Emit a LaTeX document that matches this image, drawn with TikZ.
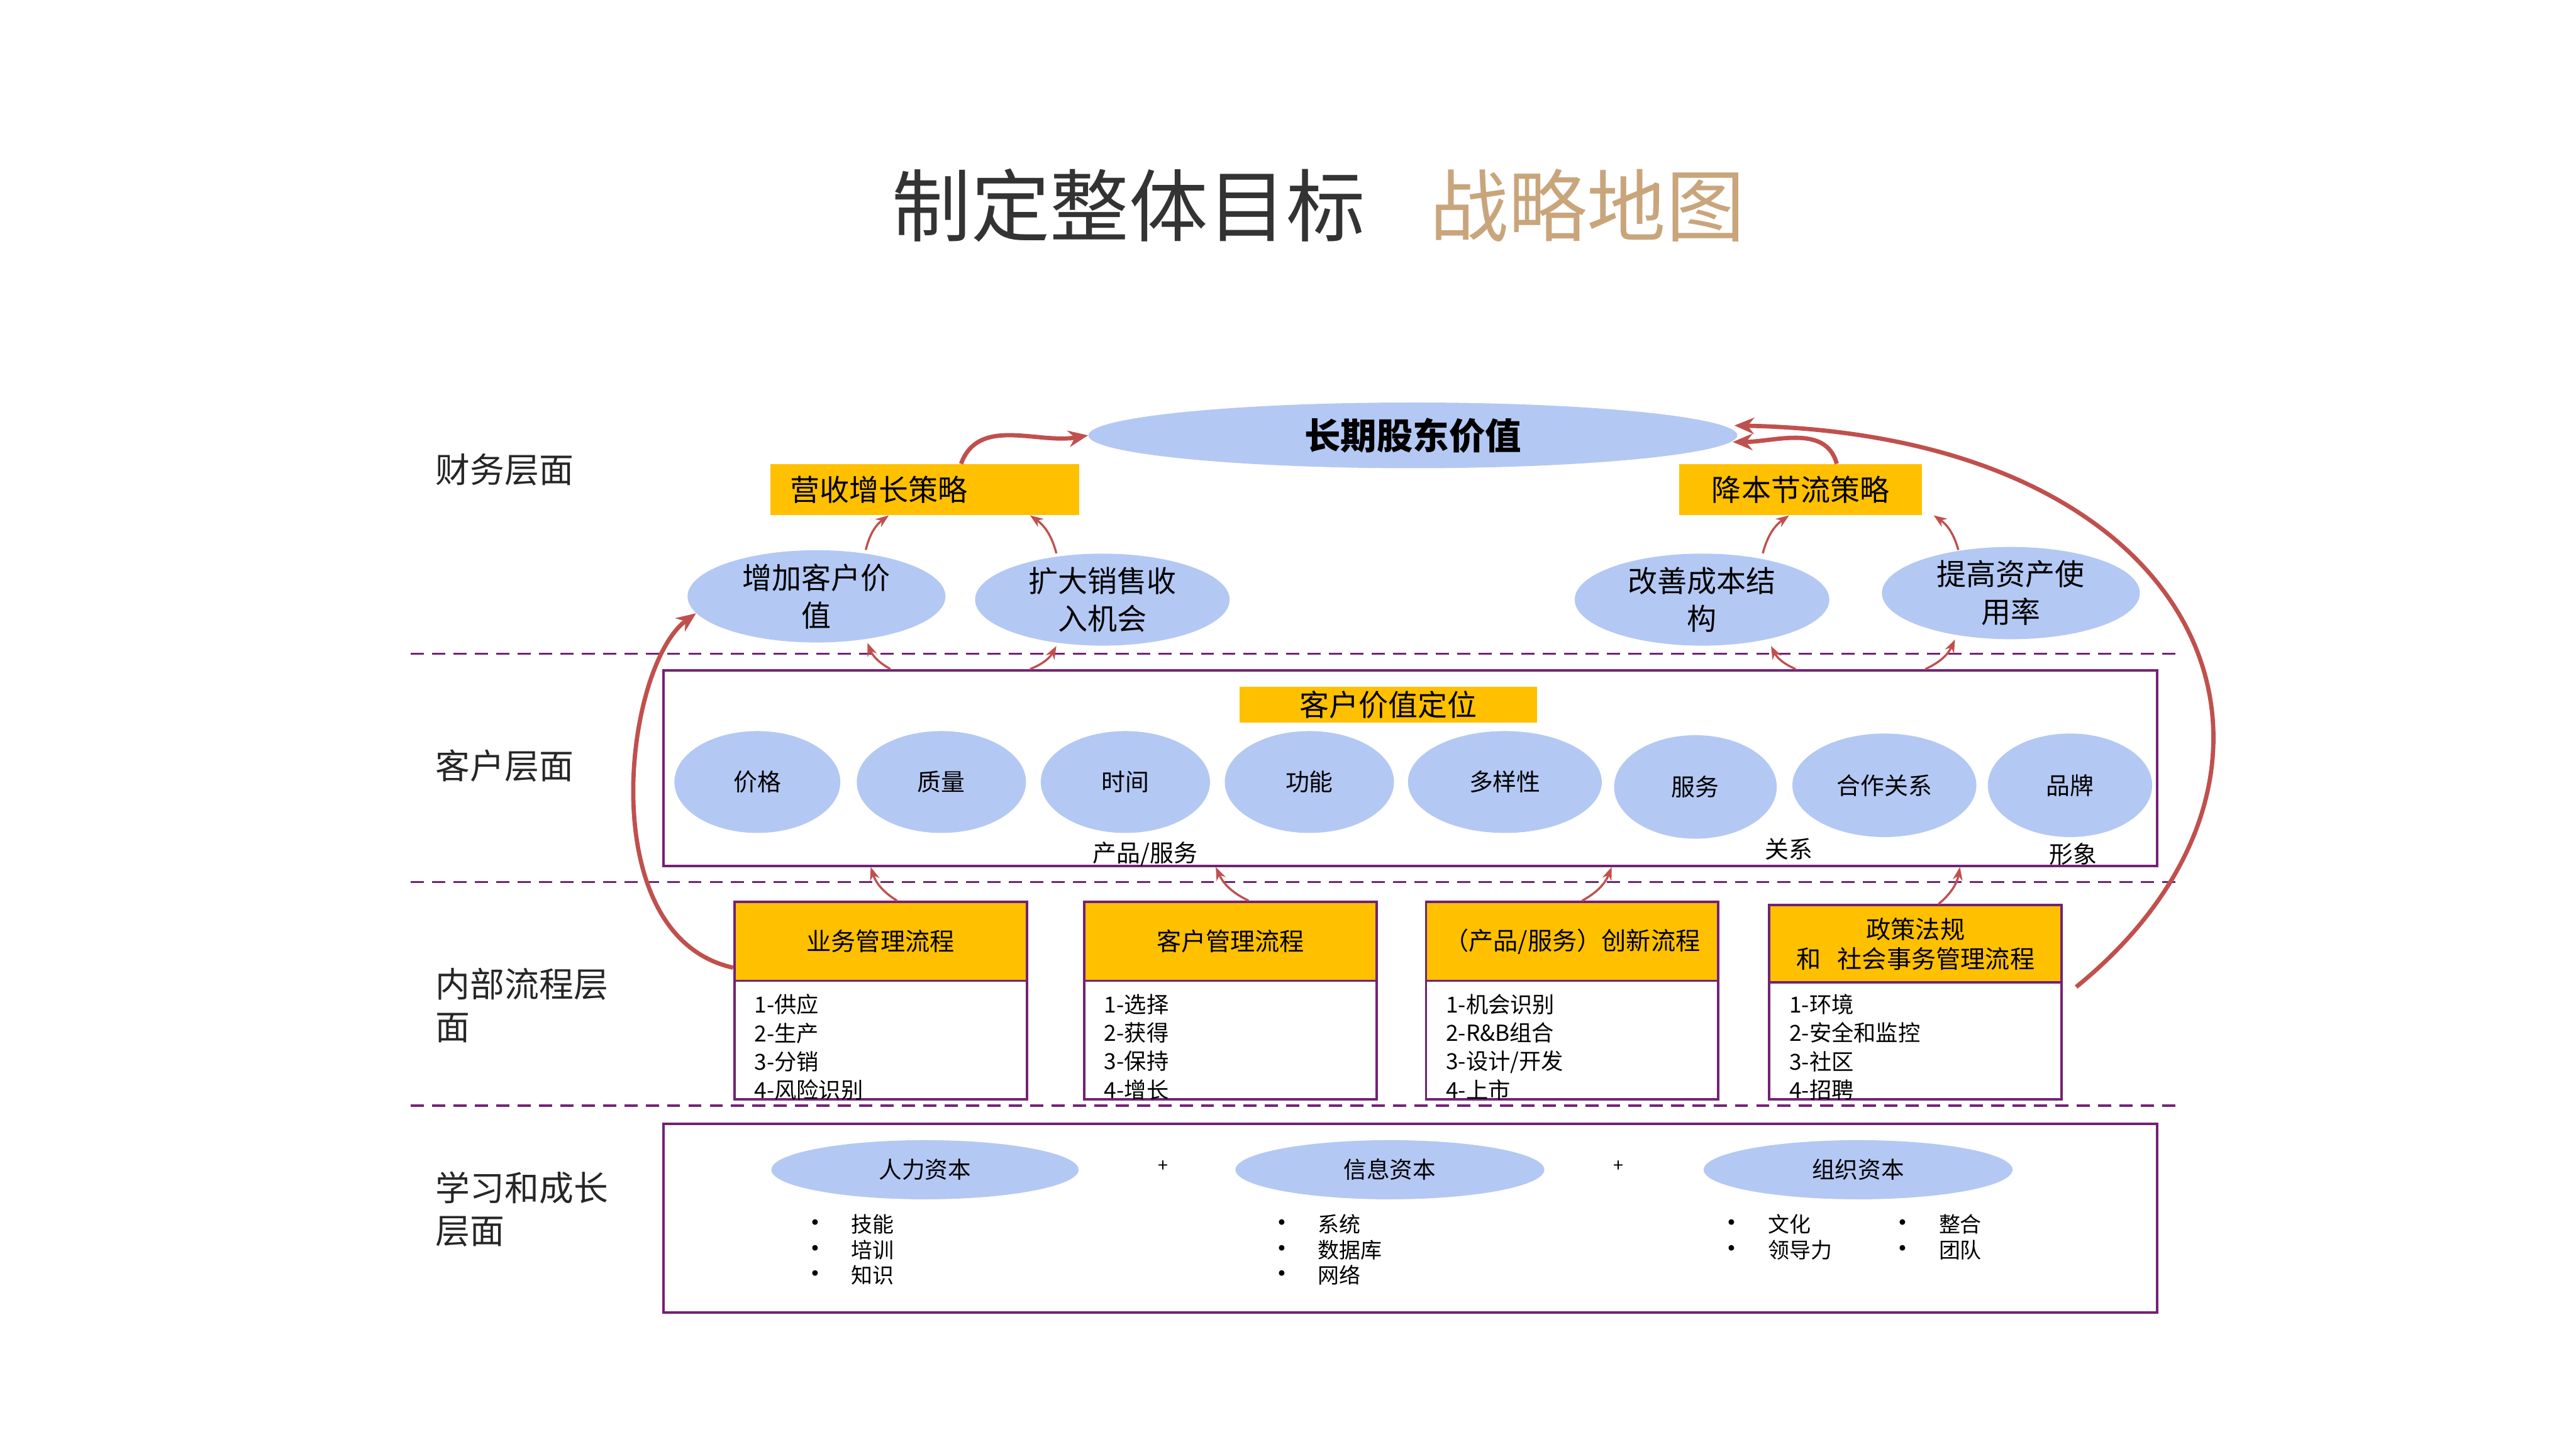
\documentclass[tikz,border=0pt]{standalone}
\usepackage{fontspec}
\setmainfont{Noto Sans CJK SC}
\usetikzlibrary{arrows.meta,shapes.geometric}

\definecolor{titlegray}{HTML}{333333}
\definecolor{titlegold}{HTML}{C9A57C}
\definecolor{ovalblue}{HTML}{B4C8F4}
\definecolor{boxgold}{HTML}{FFC000}
\definecolor{framepurple}{HTML}{732274}
\definecolor{arrowred}{HTML}{C0504D}

\newcommand\setsz[2]{\fontsize{#1}{#2}\selectfont}
\newcommand\lbul{\makebox[30pt][l]{\smash{\fontsize{16pt}{13pt}\selectfont•}}}

\tikzset{
  oval/.style={ellipse, fill=ovalblue, inner sep=0pt, align=center},
  gold/.style={fill=boxgold, inner sep=0pt},
  frame/.style={draw=framepurple, line width=1.5pt, inner sep=0pt},
  head/.style={frame, fill=boxgold, minimum width=178pt, minimum height=48pt, align=center, font=\setsz{15pt}{18pt}},
  body/.style={frame, fill=white, minimum width=178pt, minimum height=72pt},
  item/.style={anchor=north west, inner sep=0pt, align=left, font=\setsz{13.5pt}{17.3pt}},
  lvl/.style={anchor=west, inner sep=0pt, align=left, text=black!85, font=\setsz{21pt}{26pt}},
  sep/.style={draw=framepurple, line width=1.3pt, dash pattern=on 8pt off 5pt},
  uparrow/.style={draw=arrowred, line width=1.3pt, -{Stealth[length=8pt,width=6pt]}},
  bigarrow/.style={draw=arrowred, line width=2.6pt, -{Stealth[length=12pt,width=10pt]}},
}

\begin{document}
\begin{tikzpicture}[x=1pt,y=1pt]
\useasboundingbox (0,0) rectangle (1568,-882);

% title
\node[anchor=west, inner sep=0pt, text=titlegray, font=\setsz{48pt}{56pt}] (title) at (543,-125) {制定整体目标};
\node[anchor=west, inner sep=0pt, text=titlegold, font=\setsz{48pt}{56pt}] (subtitle) at (870,-125) {战略地图};

% perspectives
\node[lvl] (lvlfin) at (265,-286) {财务层面};
\node[lvl] (lvlcust) at (265,-466) {客户层面};
\node[lvl] (lvlproc) at (265,-612) {内部流程层\\面};
\node[lvl] (lvllearn) at (265,-736) {学习和成长\\层面};
\draw[sep] (250,-398) -- (1325,-398);
\draw[sep] (250,-537) -- (1325,-537);
\draw[sep] (250,-673) -- (1325,-673);

% financial
\node[oval, minimum width=395pt, minimum height=40pt, font=\setsz{22pt}{26pt}\bfseries] (lsv) at (860,-265) {长期股东价值};
\node[gold, minimum width=188pt, minimum height=31pt, text width=164pt, inner xsep=12pt, align=left, font=\setsz{18pt}{22pt}] (rev) at (563,-298) {营收增长策略};
\node[gold, minimum width=148pt, minimum height=31pt, font=\setsz{18pt}{22pt}] (cost) at (1096,-298) {降本节流策略};
\node[oval, minimum width=157pt, minimum height=56pt, font=\setsz{18pt}{23pt}] (fin1) at (497,-363) {增加客户价\\值};
\node[oval, minimum width=155pt, minimum height=56pt, font=\setsz{18pt}{23pt}] (fin2) at (671,-365) {扩大销售收\\入机会};
\node[oval, minimum width=155pt, minimum height=56pt, font=\setsz{18pt}{23pt}] (fin3) at (1036,-365) {改善成本结\\构};
\node[oval, minimum width=157pt, minimum height=54pt, font=\setsz{18pt}{23pt}] (fin4) at (1224,-361) {提高资产使\\用率};

% customer
\node[frame, minimum width=909pt, minimum height=119pt] (cust) at (858.5,-467.5) {};
\node[gold, minimum width=181pt, minimum height=22pt, font=\setsz{18pt}{22pt}] (cvp) at (845,-429) {客户价值定位};
\node[oval, minimum width=101pt, minimum height=62pt, font=\setsz{14.5pt}{17pt}] (price) at (461,-476) {价格};
\node[oval, minimum width=103pt, minimum height=62pt, font=\setsz{14.5pt}{17pt}] (quality) at (573,-476) {质量};
\node[oval, minimum width=103pt, minimum height=62pt, font=\setsz{14.5pt}{17pt}] (time) at (685,-476) {时间};
\node[oval, minimum width=103pt, minimum height=62pt, font=\setsz{14.5pt}{17pt}] (func) at (797,-476) {功能};
\node[oval, minimum width=118pt, minimum height=62pt, font=\setsz{14.5pt}{17pt}] (variety) at (916,-476) {多样性};
\node[oval, minimum width=99pt, minimum height=63pt, font=\setsz{14.5pt}{17pt}] (service) at (1032,-479) {服务};
\node[oval, minimum width=112pt, minimum height=63pt, font=\setsz{14.5pt}{17pt}] (partner) at (1147,-478) {合作关系};
\node[oval, minimum width=100pt, minimum height=63pt, font=\setsz{14.5pt}{17pt}] (brand) at (1260,-478) {品牌};
\node[inner sep=0pt, font=\setsz{14.5pt}{17pt}] (prodlbl) at (697,-520) {产品/服务};
\node[inner sep=0pt, font=\setsz{14.5pt}{17pt}] (rellbl) at (1089,-517) {关系};
\node[inner sep=0pt, font=\setsz{14.5pt}{17pt}] (imglbl) at (1262,-520) {形象};

% internal processes
\node[body] (bpb) at (536,-633) {};
\node[head] (bph) at (536,-573) {业务管理流程};
\node[item] (bpi) at (459,-605) {1-供应\\2-生产\\3-分销\\4-风险识别};
\node[body] (cpb) at (749,-633) {};
\node[head] (cph) at (749,-573) {客户管理流程};
\node[item] (cpi) at (672,-605) {1-选择\\2-获得\\3-保持\\4-增长};
\node[body] (inb) at (957,-633) {};
\node[head] (inh) at (957,-573) {（产品/服务）创新流程};
\node[item] (ini) at (880,-605) {1-机会识别\\2-R\&B组合\\3-设计/开发\\4-上市};
\node[body, minimum height=71pt] (pob) at (1166,-633.5) {};
\node[head, minimum height=47pt] (poh) at (1166,-574.5) {政策法规\\和\hspace{10pt}社会事务管理流程};
\node[item] (poi) at (1089,-605) {1-环境\\2-安全和监控\\3-社区\\4-招聘};

% learning and growth
\node[frame, minimum width=909pt, minimum height=115pt] (learn) at (858.5,-741.5) {};
\node[oval, minimum width=187pt, minimum height=36pt, font=\setsz{14pt}{17pt}] (human) at (563,-712) {人力资本};
\node[oval, minimum width=188pt, minimum height=36pt, font=\setsz{14pt}{17pt}] (info) at (846,-712) {信息资本};
\node[oval, minimum width=188pt, minimum height=36pt, font=\setsz{14pt}{17pt}] (org) at (1131,-712) {组织资本};
\node[inner sep=0pt, font=\setsz{11pt}{12pt}] (plus1) at (708,-710) {+};
\node[inner sep=0pt, font=\setsz{11pt}{12pt}] (plus2) at (985,-710) {+};
\node[item, font=\setsz{13pt}{15.5pt}] (humani) at (488,-739) {\lbul 技能\\\lbul 培训\\\lbul 知识};
\node[item, font=\setsz{13pt}{15.5pt}] (infoi) at (772,-739) {\lbul 系统\\\lbul 数据库\\\lbul 网络};
\node[item, font=\setsz{13pt}{15.5pt}] (orgi) at (1046,-739) {\lbul 文化\\\lbul 领导力};
\node[item, font=\setsz{13pt}{15.5pt}] (orgj) at (1150,-739) {\lbul 整合\\\lbul 团队};

% links
\draw[uparrow] ([xshift=30pt]fin1.north) to[bend left=20] ([xshift=-22pt]rev.south);
\draw[uparrow] ([xshift=-28pt]fin2.north) to[bend right=20] ([xshift=64pt]rev.south);
\draw[uparrow] ([xshift=37pt]fin3.north) to[bend left=20] ([xshift=-7pt]cost.south);
\draw[uparrow] ([xshift=-32pt,yshift=-2pt]fin4.north) to[bend right=20] ([xshift=81pt]cost.south);
\draw[uparrow] ([xshift=-316.5pt]cust.north) to[bend left=20] ([xshift=31pt]fin1.south);
\draw[uparrow] ([xshift=-231.5pt]cust.north) to[bend right=20] ([xshift=-28pt]fin2.south);
\draw[uparrow] ([xshift=234.5pt]cust.north) to[bend left=20] ([xshift=42pt]fin3.south);
\draw[uparrow] ([xshift=313.5pt]cust.north) to[bend right=20] ([xshift=-34pt]fin4.south);
\draw[uparrow] ([xshift=10pt]bph.north) to[bend left=20] ([xshift=-328.5pt]cust.south);
\draw[uparrow] ([xshift=11pt]cph.north) to[bend left=20] ([xshift=-118.5pt]cust.south);
\draw[uparrow] ([xshift=6pt]inh.north) to[bend right=20] ([xshift=122.5pt]cust.south);
\draw[uparrow] ([xshift=14pt]poh.north) to[bend right=20] ([xshift=334.5pt]cust.south);
\draw[bigarrow] ([xshift=22pt]rev.north) to[out=70,in=190] (lsv.west);
\draw[bigarrow] ([xshift=22pt]cost.north) to[out=105,in=0] ([xshift=-3pt,yshift=-4pt]lsv.east);
\draw[bigarrow] ([xshift=8pt,yshift=-2pt]poh.south east) .. controls (1425,-470) and (1350,-265) .. ([xshift=-2pt,yshift=6pt]lsv.east);
\draw[bigarrow] ([yshift=-16pt]bph.west) .. controls (360,-570) and (380,-405) .. (fin1.188);

\end{tikzpicture}
\end{document}
